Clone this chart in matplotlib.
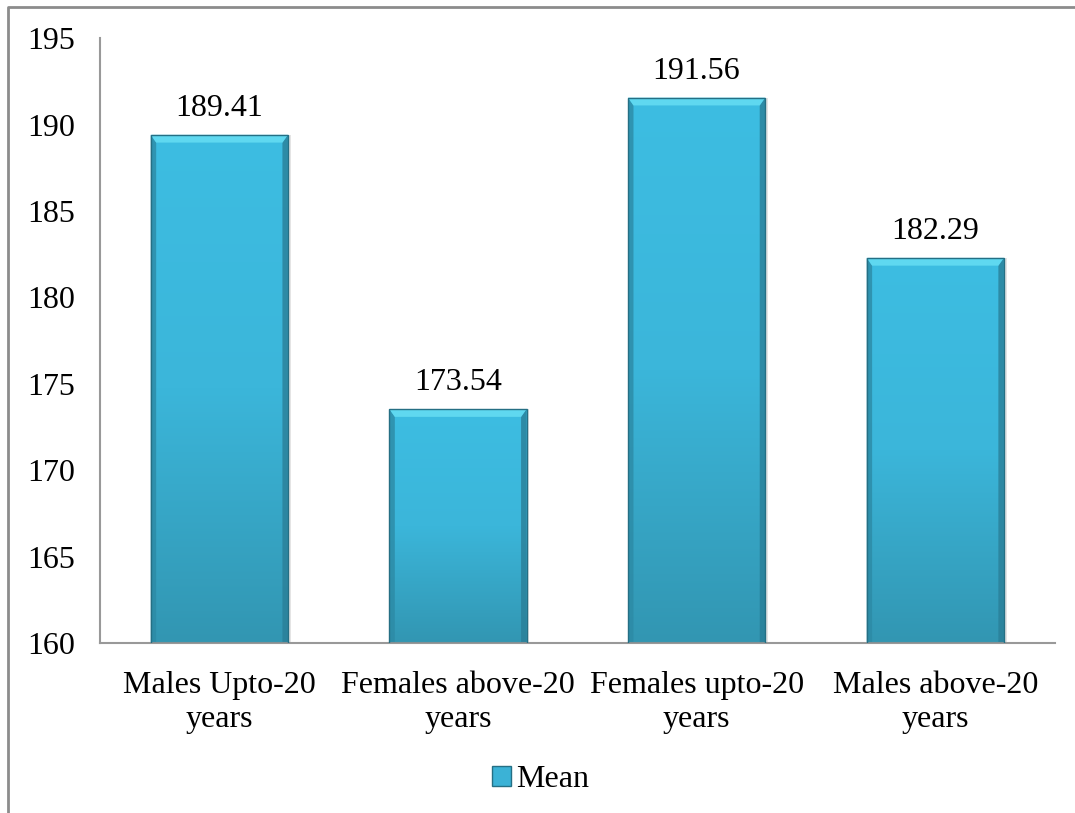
import numpy as np
import matplotlib.pyplot as plt
from matplotlib.patches import Rectangle, Patch, Polygon
from matplotlib.lines import Line2D
from matplotlib.colors import LinearSegmentedColormap

categories = ['Males Upto-20\nyears', 'Females above-20\nyears',
              'Females upto-20\nyears', 'Males above-20\nyears']
means = [189.41, 173.54, 191.56, 182.29]
yticks = [160, 165, 170, 175, 180, 185, 190, 195]

plt.rcParams['font.family'] = ['Liberation Serif', 'DejaVu Serif']

fig = plt.figure(figsize=(10.75, 8.13), dpi=100)
ax = fig.add_axes([0.093, 0.209, 0.888, 0.744])

# outer frame of the chart area (only top and left are visible)
fig.lines.append(Line2D([0.0075, 0.0075, 1.0], [0.0, 0.9915, 0.9915], transform=fig.transFigure,
                        color='#8c8c8c', linewidth=2.0))

cmap = LinearSegmentedColormap.from_list('bar', ['#3296b2', '#3bb6da', '#3dbde2'])
width = 0.575
x = np.arange(len(categories))
ymin, ymax = 160, 195
bev = 0.45
sw = width * 0.04

bars = ax.bar(x, np.array(means) - ymin, width, bottom=ymin, color='none',
              edgecolor='#256f84', linewidth=1.0, zorder=3)
grad = np.linspace(0, 1, 256).reshape(-1, 1)
for b, v in zip(bars, means):
    x0 = b.get_x()
    # soft shadow
    ax.add_patch(Rectangle((x0 + 0.012, ymin), width, v - ymin,
                           facecolor='#d2d2d2', edgecolor='none', zorder=1, alpha=0.6))
    im = ax.imshow(grad, cmap=cmap, aspect='auto', origin='lower',
                   extent=(x0, x0 + width, ymin, v), zorder=2)
    im.set_clip_path(b)
    # bevel: light top, darker sides
    ax.add_patch(Polygon([(x0, v), (x0 + width, v), (x0 + width - sw, v - bev), (x0 + sw, v - bev)],
                         facecolor='#5fd8f0', edgecolor='none', zorder=2.6))
    ax.add_patch(Polygon([(x0, ymin), (x0, v), (x0 + sw, v - bev), (x0 + sw, ymin)],
                         facecolor='#2c8aa5', edgecolor='none', zorder=2.5, alpha=0.8))
    ax.add_patch(Polygon([(x0 + width, ymin), (x0 + width, v), (x0 + width - sw, v - bev),
                          (x0 + width - sw, ymin)],
                         facecolor='#2a7f98', edgecolor='none', zorder=2.5, alpha=0.8))
    ax.text(x0 + width / 2, v + 0.7, f'{v:.2f}', ha='center', va='bottom',
            fontsize=23)

ax.set_xlim(-0.5, len(categories) - 0.5)
ax.set_ylim(ymin, ymax)
ax.set_yticks(yticks)
ax.set_xticks(x)
ax.set_xticklabels(categories, fontsize=23, linespacing=1.22)
ax.tick_params(axis='y', labelsize=23, length=0, pad=52.5)
ax.tick_params(axis='x', length=0, pad=20)
for s in ['top', 'right']:
    ax.spines[s].set_visible(False)
for s in ['left', 'bottom']:
    ax.spines[s].set_color('#999999')
    ax.spines[s].set_linewidth(1.5)
for lbl in ax.get_yticklabels():
    lbl.set_horizontalalignment('left')

handle = Patch(facecolor='#3bb2d6', edgecolor='#256f84', label='Mean')
fig.legend(handles=[handle], loc='center', bbox_to_anchor=(0.503, 0.041), frameon=False,
           fontsize=23, handlelength=0.6, handleheight=0.6, handletextpad=0.15)

plt.savefig('out.png', dpi=100)
